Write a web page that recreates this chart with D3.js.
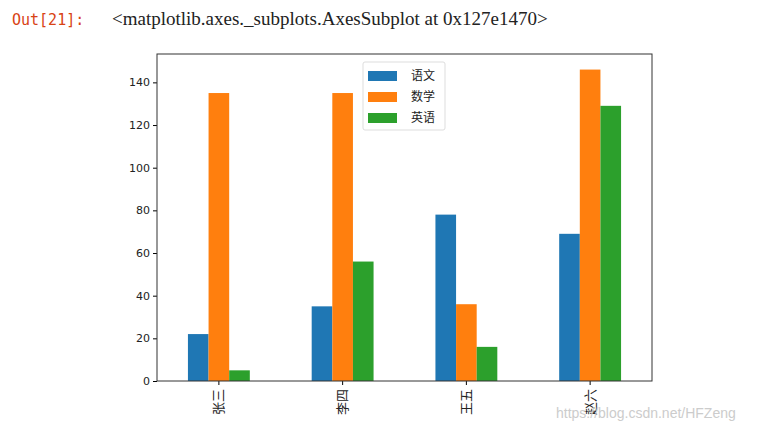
<!DOCTYPE html>
<html><head><meta charset="utf-8">
<script src="https://cdn.jsdelivr.net/npm/d3@7"></script>
<style>body{margin:0;background:#fff}</style></head>
<body><script>
const names = ["张三", "李四", "王五", "赵六"];
const subjects = ["语文", "数学", "英语"];
const chinese = [22, 35, 78, 69];
const math = [135, 135, 36, 146];
const english = [5, 56, 16, 129];
const colors = ["#1f77b4", "#ff7f0e", "#2ca02c"];
const series = [chinese, math, english];
const yTicks = [0, 20, 40, 60, 80, 100, 120, 140];

const svg = d3.select("body").append("svg").attr("width", 766).attr("height", 431);
svg.append("text").attr("x", 12).attr("y", 25).attr("fill", "#d84315")
  .style("font-family", "DejaVu Sans Mono").style("font-size", "15px").text("Out[21]:");
svg.append("text").attr("x", 112).attr("y", 25).attr("fill", "#222")
  .style("font-family", "Liberation Serif").style("font-size", "19px")
  .text("<matplotlib.axes._subplots.AxesSubplot at 0x127e1470>");

const L = 157, R = 652, T = 54, B = 381;
const x = d3.scaleBand().domain(names).range([L, R]).paddingInner(0.5).paddingOuter(0.25);
const y = d3.scaleLinear().domain([0, 146 * 1.05]).range([B, T]);
const bw = x.bandwidth() / 3;

series.forEach((vals, s) => {
  svg.append("g").selectAll("rect").data(vals).enter().append("rect")
    .attr("x", (d, i) => x(names[i]) + s * bw)
    .attr("y", d => y(d)).attr("width", bw).attr("height", d => B - y(d))
    .attr("fill", colors[s]);
});

const ax = svg.append("g").attr("transform", `translate(0,${B})`)
  .call(d3.axisBottom(x).tickSize(4).tickSizeOuter(0));
ax.selectAll("text").attr("transform", "rotate(-90)").attr("text-anchor", "end")
  .attr("x", -8).attr("y", 0).attr("dy", "0.35em")
  .style("font-family", "Noto Sans CJK SC").style("font-size", "13px").attr("fill", "#222");
const ay = svg.append("g").attr("transform", `translate(${L},0)`)
  .call(d3.axisLeft(y).tickValues(yTicks).tickSize(4).tickSizeOuter(0));
ay.selectAll("text").style("font-family", "DejaVu Sans").style("font-size", "11px").attr("fill", "#222");
svg.selectAll(".domain").remove();
svg.append("rect").attr("x", L).attr("y", T).attr("width", R - L).attr("height", B - T)
  .attr("fill", "none").attr("stroke", "#333").attr("stroke-width", 1);

const lg = svg.append("g").attr("transform", "translate(363,62)");
lg.append("rect").attr("width", 82).attr("height", 68).attr("rx", 2)
  .attr("fill", "#fff").attr("stroke", "#ddd");
subjects.forEach((s, i) => {
  lg.append("rect").attr("x", 5).attr("y", 9 + i * 21).attr("width", 29).attr("height", 10).attr("fill", colors[i]);
  lg.append("text").attr("x", 48).attr("y", 14 + i * 21).attr("dy", "0.35em")
    .style("font-family", "Noto Sans CJK SC").style("font-size", "12px").attr("fill", "#222").text(s);
});
svg.append("text").attr("x", 556).attr("y", 418).attr("fill", "#ccc")
  .style("font-family", "Liberation Sans").style("font-size", "14px").text("https://blog.csdn.net/HFZeng");
</script></body></html>
